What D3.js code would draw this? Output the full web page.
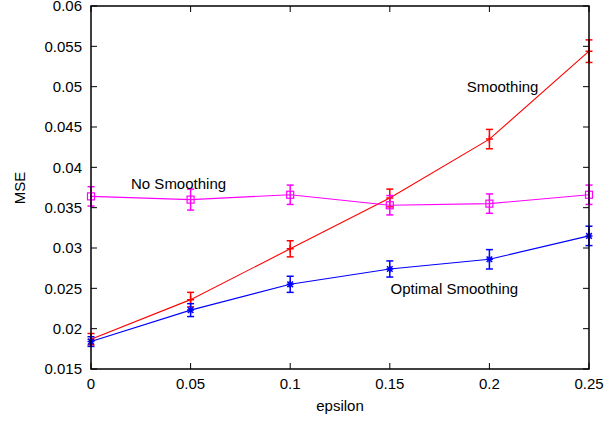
<!DOCTYPE html>
<html>
<head>
<meta charset="utf-8">
<script src="https://cdn.jsdelivr.net/npm/d3@7"></script>
<style>
  body { margin: 0; background: #fff; }
  text { font-family: "Liberation Sans", Arial, sans-serif; fill: #000; }
</style>
</head>
<body>
<svg id="chart" width="615" height="422"></svg>
<script>
// data
const epsilon = [0, 0.05, 0.1, 0.15, 0.2, 0.25]
const smoothing = [0.0187, 0.0236, 0.0299, 0.0362, 0.0435, 0.0544]
const smoothingErr = [0.0007, 0.0009, 0.0010, 0.0011, 0.0012, 0.0014]
const noSmoothing = [0.0364, 0.0360, 0.0366, 0.0353, 0.0355, 0.0366]
const noSmoothingErr = [0.0012, 0.0013, 0.0012, 0.0012, 0.0012, 0.0012]
const optimal = [0.0184, 0.0223, 0.0255, 0.0274, 0.0286, 0.0315]
const optimalErr = [0.0006, 0.0008, 0.0010, 0.0010, 0.0012, 0.0012]

const xTicks = [0, 0.05, 0.1, 0.15, 0.2, 0.25]
const yTicks = [0.015, 0.02, 0.025, 0.03, 0.035, 0.04, 0.045, 0.05, 0.055, 0.06]

const labels = [
  {text: "Smoothing", x: 0.1886, y: 0.0494},
  {text: "No Smoothing", x: 0.0201, y: 0.0373},
  {text: "Optimal Smoothing", x: 0.1504, y: 0.0243},
]

const series = [
  {values: smoothing, err: smoothingErr, color: "#ff0000", marker: "plus"},
  {values: noSmoothing, err: noSmoothingErr, color: "#ff00ff", marker: "square"},
  {values: optimal, err: optimalErr, color: "#0000ff", marker: "star"},
]

const svg = d3.select("#chart")
const plotLeft = 91, plotRight = 589, plotTop = 6, plotBottom = 369

const x = d3.scaleLinear().domain([0, 0.25]).range([plotLeft, plotRight])
const y = d3.scaleLinear().domain([0.015, 0.06]).range([plotBottom, plotTop])

const tickLen = 6

// ticks (inward, mirrored like gnuplot)
const g = svg.append("g")
xTicks.forEach(t => {
  g.append("line").attr("x1", x(t)).attr("x2", x(t))
    .attr("y1", plotBottom).attr("y2", plotBottom - tickLen).attr("stroke", "#000")
  g.append("line").attr("x1", x(t)).attr("x2", x(t))
    .attr("y1", plotTop).attr("y2", plotTop + tickLen).attr("stroke", "#000")
  g.append("text").attr("x", x(t)).attr("y", plotBottom + 20)
    .attr("text-anchor", "middle").style("font-size", "15px")
    .text(+t.toFixed(2))
})
yTicks.forEach(t => {
  g.append("line").attr("x1", plotLeft).attr("x2", plotLeft + tickLen)
    .attr("y1", y(t)).attr("y2", y(t)).attr("stroke", "#000")
  g.append("line").attr("x1", plotRight).attr("x2", plotRight - tickLen)
    .attr("y1", y(t)).attr("y2", y(t)).attr("stroke", "#000")
  g.append("text").attr("x", plotLeft - 9).attr("y", y(t)).attr("dy", "0.35em")
    .attr("text-anchor", "end").style("font-size", "15px")
    .text(+t.toFixed(3))
})

// series
series.forEach(s => {
  const pts = epsilon.map((e, i) => ({x: e, y: s.values[i], err: s.err[i]}))
  const sg = svg.append("g").attr("stroke", s.color).attr("fill", "none").attr("stroke-width", 1.1)

  sg.append("path")
    .attr("d", d3.line().x(d => x(d.x)).y(d => y(d.y))(pts))

  pts.forEach(d => {
    const cx = x(d.x), cy = y(d.y)
    const y0 = y(d.y - d.err), y1 = y(d.y + d.err)
    sg.append("line").attr("x1", cx).attr("x2", cx).attr("y1", y0).attr("y2", y1).attr("stroke-width", 1.5)
    sg.append("line").attr("x1", cx - 3.5).attr("x2", cx + 3.5).attr("y1", y0).attr("y2", y0).attr("stroke-width", 1.5)
    sg.append("line").attr("x1", cx - 3.5).attr("x2", cx + 3.5).attr("y1", y1).attr("y2", y1).attr("stroke-width", 1.5)

    if (s.marker == "plus") {
      sg.append("path").attr("d", `M${cx-3.5},${cy}H${cx+3.5}M${cx},${cy-3.5}V${cy+3.5}`).attr("stroke-width", 1.5)
    } else if (s.marker == "square") {
      sg.append("rect").attr("x", cx - 3.5).attr("y", cy - 3.5).attr("width", 7).attr("height", 7).attr("stroke-width", 1.2)
    } else {
      const r = 3.5
      sg.append("path").attr("d",
        `M${cx-r},${cy}H${cx+r}M${cx},${cy-r}V${cy+r}M${cx-r*0.8},${cy-r*0.8}L${cx+r*0.8},${cy+r*0.8}M${cx-r*0.8},${cy+r*0.8}L${cx+r*0.8},${cy-r*0.8}`)
        .attr("stroke-width", 1.5)
    }
  })
})

// frame
svg.append("rect").attr("x", plotLeft).attr("y", plotTop)
  .attr("width", plotRight - plotLeft).attr("height", plotBottom - plotTop)
  .attr("fill", "none").attr("stroke", "#000").attr("stroke-width", 1.5)

// labels
labels.forEach(l => {
  svg.append("text").attr("x", x(l.x)).attr("y", y(l.y))
    .style("font-size", "15px").text(l.text)
})

svg.append("text").attr("x", (plotLeft + plotRight) / 2).attr("y", 411)
  .attr("text-anchor", "middle").style("font-size", "15px").text("epsilon")

svg.append("text").attr("transform", "translate(25,188) rotate(-90)")
  .attr("text-anchor", "middle").style("font-size", "15px").text("MSE")
</script>
</body>
</html>
